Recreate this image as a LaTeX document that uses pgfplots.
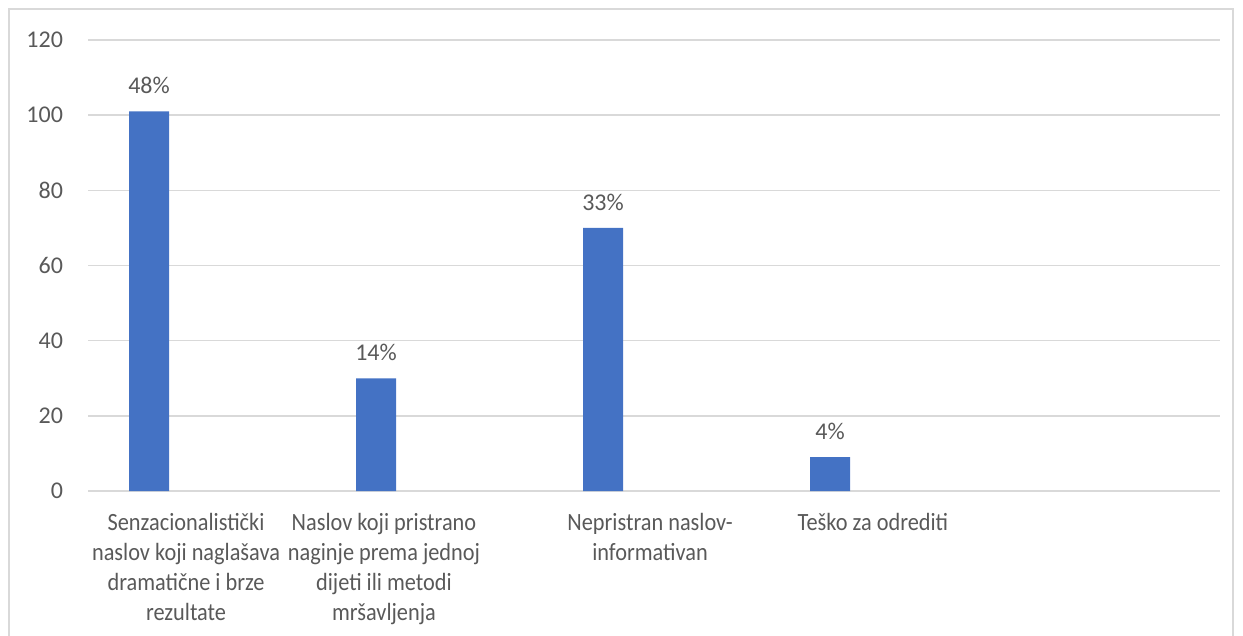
\documentclass[border=0pt]{standalone}
\usepackage{fontspec}
\setmainfont{Carlito}
\newfontfamily\catfont[FakeStretch=0.9]{Carlito}
\usepackage{pgfplots}
\pgfplotsset{compat=1.18}
\definecolor{barblue}{HTML}{4472C4}
\definecolor{gridgray}{HTML}{D9D9D9}
\definecolor{txtgray}{HTML}{595959}

\begin{document}
\begin{tikzpicture}
\useasboundingbox (0,0) rectangle (621.5pt,-318pt);
\draw[gridgray, line width=0.75pt] (4.5pt,-330pt) -- (4.5pt,-4.5pt) -- (616.5pt,-4.5pt) -- (616.5pt,-330pt);
\begin{axis}[
    at={(44pt,-245.5pt)}, anchor=south west,
    scale only axis,
    width=566pt, height=225.5pt,
    xmin=-0.269, xmax=4.718,
    ymin=0, ymax=120,
    ytick={0,20,...,120},
    ymajorgrids,
    grid style={gridgray, line width=0.75pt},
    axis x line*=bottom,
    axis y line*=left,
    x axis line style={gridgray, line width=0.75pt, -},
    y axis line style={draw=none},
    major tick length=0pt,
    /pgf/number format/assume math mode=true,
    tick label style={font=\fontsize{12}{15}\selectfont, text=txtgray},
    yticklabel style={xshift=-9pt},
    xtick={0.163,1.035,2.207,3.189},
    xticklabel style={font=\catfont\fontsize{12.4}{15}\selectfont, align=center, anchor=north, yshift=-7.5pt},
    xticklabels={
        {Senzacionalistički\\naslov koji naglašava\\dramatične i brze\\rezultate},
        {Naslov koji pristrano\\naginje prema jednoj\\dijeti ili metodi\\mršavljenja},
        {Nepristran naslov-\\informativan},
        {Teško za odrediti}},
    ybar,
    bar width=20pt,
    point meta=explicit symbolic,
    nodes near coords,
    every node near coord/.append style={font=\fontsize{12}{15}\selectfont, text=txtgray, anchor=south, inner sep=0pt, yshift=8.5pt},
]
\addplot[fill=barblue, draw=none] coordinates {
    (0,101) [48\%]
    (1,30) [14\%]
    (2,70) [33\%]
    (3,9) [4\%]
};
\end{axis}
\end{tikzpicture}
\end{document}
